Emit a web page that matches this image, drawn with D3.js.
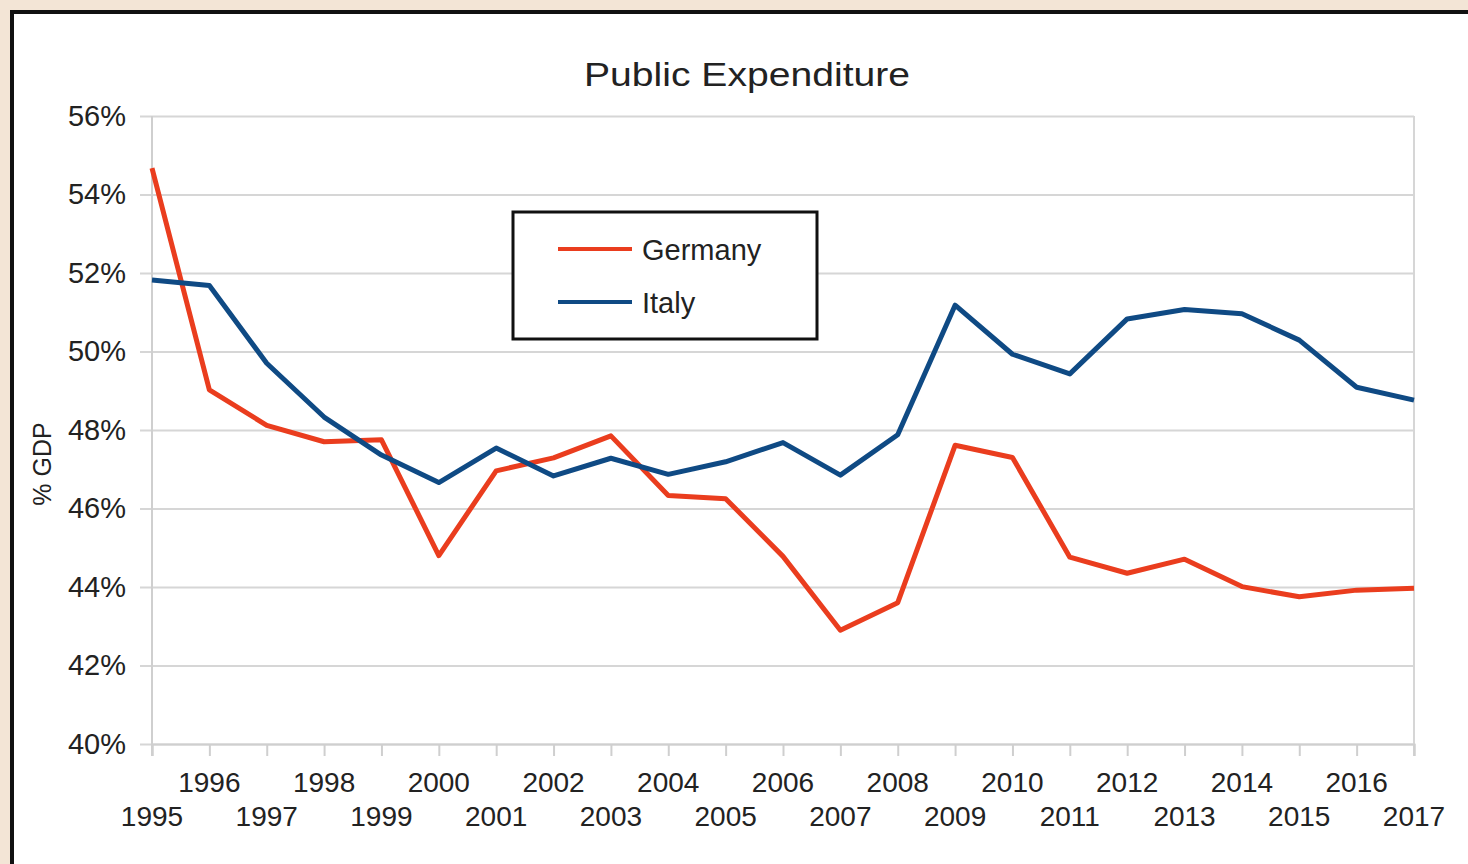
<!DOCTYPE html>
<html>
<head>
<meta charset="utf-8">
<script src="https://cdn.jsdelivr.net/npm/d3@7"></script>
<style>
  html, body { margin: 0; padding: 0; background: #f3e5d6; }
  svg { display: block; }
  text { font-family: "Liberation Sans", Arial, sans-serif; fill: #222; }
</style>
</head>
<body>
<svg id="chart" width="1468" height="864"></svg>
<script>
// Public expenditure as share of GDP, 1995-2017
const years = d3.range(1995, 2018);
const germany = [54.67, 49.02, 48.12, 47.70, 47.75, 44.80, 46.96, 47.29, 47.85, 46.33,
                 46.25, 44.78, 42.90, 43.60, 47.61, 47.30, 44.76, 44.35, 44.71, 44.01,
                 43.75, 43.92, 43.97];
const italy = [51.82, 51.68, 49.70, 48.33, 47.36, 46.66, 47.54, 46.83, 47.28, 46.87,
               47.19, 47.68, 46.85, 47.88, 51.18, 49.93, 49.43, 50.83, 51.07, 50.96,
               50.29, 49.09, 48.76];
const yTicks = [40, 42, 44, 46, 48, 50, 52, 54, 56];
const seriesNames = ["Germany", "Italy"];
const seriesColors = ["#ea3d1e", "#0f4a84"];

const svg = d3.select("#chart");

// card frame
svg.append("rect")
  .attr("x", 12).attr("y", 12)
  .attr("width", 1500).attr("height", 900)
  .attr("fill", "#ffffff")
  .attr("stroke", "#111").attr("stroke-width", 4);

const plotLeft = 152, plotRight = 1414, plotTop = 116, plotBottom = 744;

const x = d3.scaleLinear().domain([1995, 2017]).range([plotLeft, plotRight]);
const y = d3.scaleLinear().domain([40, 56]).range([plotBottom, plotTop]);

// horizontal gridlines + y labels
svg.append("g")
  .attr("transform", `translate(${plotRight},0)`)
  .call(d3.axisLeft(y).tickValues(yTicks).tickSize(plotRight - plotLeft + 12).tickPadding(14).tickFormat(d => d + "%"))
  .call(g => g.select(".domain").remove())
  .call(g => g.selectAll(".tick line").attr("stroke", "#d6d6d6").attr("stroke-width", 2))
  .call(g => g.selectAll(".tick text")
      .attr("font-size", 29).attr("fill", "#222")
      .attr("font-family", "Liberation Sans, Arial, sans-serif"));

// vertical plot edges
svg.append("line").attr("x1", plotLeft).attr("x2", plotLeft).attr("y1", plotTop).attr("y2", plotBottom + 12)
  .attr("stroke", "#cfcfcf").attr("stroke-width", 2);
svg.append("line").attr("x1", plotRight).attr("x2", plotRight).attr("y1", plotTop).attr("y2", plotBottom + 12)
  .attr("stroke", "#d6d6d6").attr("stroke-width", 2);

// x axis with two staggered label rows
svg.append("g")
  .attr("transform", `translate(0,${plotBottom})`)
  .call(d3.axisBottom(x).tickValues(years).tickSize(12).tickFormat(""))
  .call(g => g.select(".domain").attr("stroke", "#cfcfcf").attr("stroke-width", 2))
  .call(g => g.selectAll(".tick line").attr("stroke", "#cfcfcf").attr("stroke-width", 2));

svg.append("g").selectAll("text")
  .data(years)
  .join("text")
  .attr("x", d => x(d))
  .attr("y", d => (d % 2 === 0 ? 792 : 826))
  .attr("text-anchor", "middle")
  .attr("font-size", 28)
  .text(d => d);

// series lines
const line = d3.line().x((d, i) => x(years[i])).y(d => y(d));
[germany, italy].forEach((vals, k) => {
  svg.append("path")
    .datum(vals)
    .attr("fill", "none")
    .attr("stroke", seriesColors[k])
    .attr("stroke-width", 5)
    .attr("stroke-linejoin", "round")
    .attr("d", line);
});

// title
svg.append("text")
  .attr("x", 747).attr("y", 86)
  .attr("text-anchor", "middle")
  .attr("font-size", 33)
  .attr("textLength", 326)
  .attr("lengthAdjust", "spacingAndGlyphs")
  .text("Public Expenditure");

// y axis title
svg.append("text")
  .attr("transform", "translate(51,464) rotate(-90)")
  .attr("text-anchor", "middle")
  .attr("font-size", 25)
  .text("% GDP");

// legend
const legend = svg.append("g");
legend.append("rect")
  .attr("x", 513).attr("y", 212).attr("width", 304).attr("height", 127)
  .attr("fill", "#ffffff").attr("stroke", "#111").attr("stroke-width", 3);
seriesNames.forEach((name, k) => {
  const ly = 249 + k * 53;
  legend.append("line")
    .attr("x1", 558).attr("x2", 632).attr("y1", ly).attr("y2", ly)
    .attr("stroke", seriesColors[k]).attr("stroke-width", 4);
  legend.append("text")
    .attr("x", 642).attr("y", ly + 11)
    .attr("font-size", 29)
    .text(name);
});
</script>
</body>
</html>
